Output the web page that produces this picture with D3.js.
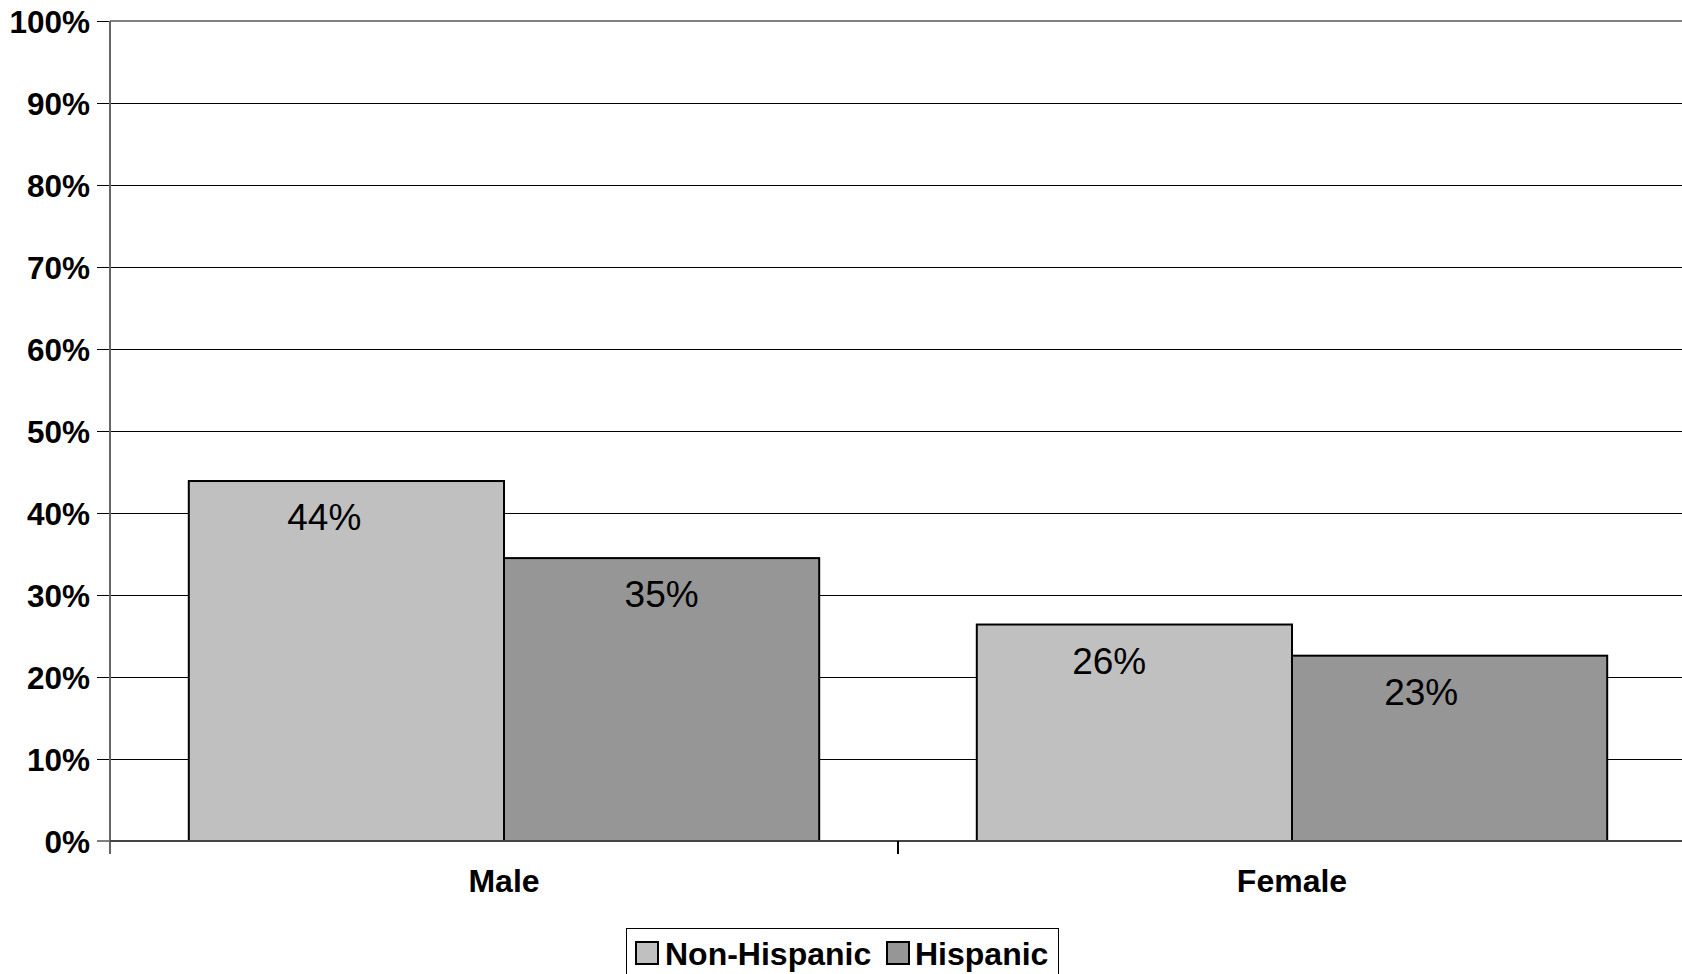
<!DOCTYPE html>
<html>
<head>
<meta charset="utf-8">
<script src="https://cdn.jsdelivr.net/npm/d3@7/dist/d3.min.js"></script>
<style>
  html, body { margin: 0; padding: 0; background: #fff; }
  svg { display: block; }
</style>
</head>
<body>
<svg id="chart" width="1682" height="974"></svg>
<script>
// ---- data ----
const categories = ["Male", "Female"];
const seriesNames = ["Non-Hispanic", "Hispanic"];
const nonHispanic = [0.439, 0.264];
const hispanic = [0.345, 0.226];
const labels = [["44%", "26%"], ["35%", "23%"]];
const yTicks = [0, 0.1, 0.2, 0.3, 0.4, 0.5, 0.6, 0.7, 0.8, 0.9, 1.0];

(function () {
const colors = ["#c0c0c0", "#969696"];
// label horizontal anchor within the bar (fraction of bar width), per series/category
const labelAnchor = [[0.43, 0.42], [0.5, 0.41]];

const mLeft = 110, mRight = 1682, scaleRight = 1686, mTop = 21, mBottom = 841;

const svg = d3.select("#chart");

const y = d3.scaleLinear().domain([0, 1]).range([mBottom, mTop]);
const x0 = d3.scaleBand().domain(categories).range([mLeft, scaleRight]).padding(0);
const bw = x0.bandwidth();
const barW = bw / 2.5;
const x1 = d3.scaleBand().domain(seriesNames)
  .range([(bw - 2 * barW) / 2, (bw + 2 * barW) / 2]).padding(0);

// gridlines (with tick extension)
svg.append("g").selectAll("line").data(yTicks.filter(d => d > 0)).join("line")
  .attr("x1", mLeft - 13).attr("x2", mRight)
  .attr("y1", d => y(d)).attr("y2", d => y(d))
  .attr("stroke", "#000").attr("stroke-width", 1)
  .attr("shape-rendering", "crispEdges");

// top border
svg.append("line").attr("x1", mLeft).attr("x2", mRight)
  .attr("y1", y(1)).attr("y2", y(1))
  .attr("stroke", "#808080").attr("stroke-width", 2);

// y tick at zero
svg.append("line").attr("x1", mLeft - 13).attr("x2", mLeft)
  .attr("y1", y(0)).attr("y2", y(0)).attr("stroke", "#000").attr("stroke-width", 1);

// y axis labels
const yAxis = d3.axisLeft(y).tickValues(yTicks).tickSize(0).tickPadding(20)
  .tickFormat(d3.format(".0%"));
const gy = svg.append("g").attr("transform", `translate(${mLeft},0)`).call(yAxis);
gy.select(".domain").remove();
gy.selectAll("text")
  .attr("font-family", "Liberation Sans, Arial, sans-serif")
  .attr("font-weight", "bold").attr("font-size", 31.5).attr("fill", "#000")
  .attr("dy", "0.35em");

// bars
const series = [nonHispanic, hispanic];
series.forEach((vals, si) => {
  const g = svg.append("g");
  g.selectAll("rect").data(vals).join("rect")
    .attr("x", (d, i) => x0(categories[i]) + x1(seriesNames[si]))
    .attr("y", d => y(d))
    .attr("width", x1.bandwidth())
    .attr("height", d => y(0) - y(d))
    .attr("fill", colors[si])
    .attr("stroke", "#000").attr("stroke-width", 2);
  g.selectAll("text").data(vals).join("text")
    .attr("x", (d, i) => x0(categories[i]) + x1(seriesNames[si]) + x1.bandwidth() * labelAnchor[si][i])
    .attr("y", d => y(d) + 49)
    .attr("text-anchor", "middle")
    .attr("font-family", "Liberation Sans, Arial, sans-serif")
    .attr("font-size", 37).attr("fill", "#000")
    .text((d, i) => labels[si][i]);
});

// axes lines
svg.append("line").attr("x1", mLeft).attr("x2", mLeft)
  .attr("y1", mTop).attr("y2", mBottom + 13)
  .attr("stroke", "#666").attr("stroke-width", 2);
svg.append("line").attr("x1", mLeft).attr("x2", mRight)
  .attr("y1", mBottom).attr("y2", mBottom)
  .attr("stroke", "#444").attr("stroke-width", 2);

// category ticks
svg.append("g").selectAll("line").data(categories.slice(1)).join("line")
  .attr("x1", d => x0(d)).attr("x2", d => x0(d))
  .attr("y1", mBottom).attr("y2", mBottom + 13)
  .attr("stroke", "#000").attr("stroke-width", 2);

// category labels
svg.append("g").selectAll("text").data(categories).join("text")
  .attr("x", d => x0(d) + bw / 2)
  .attr("y", mBottom + 51)
  .attr("text-anchor", "middle")
  .attr("font-family", "Liberation Sans, Arial, sans-serif")
  .attr("font-weight", "bold").attr("font-size", 32).attr("fill", "#000")
  .text(d => d);

// legend
const lg = svg.append("g");
lg.append("rect").attr("x", 626.5).attr("y", 928.5).attr("width", 432).attr("height", 46)
  .attr("fill", "#fff").attr("stroke", "#000").attr("stroke-width", 1);
const legendItems = [
  { name: seriesNames[0], color: colors[0], sx: 636, tx: 665 },
  { name: seriesNames[1], color: colors[1], sx: 887, tx: 915 }
];
legendItems.forEach(it => {
  lg.append("rect").attr("x", it.sx).attr("y", 942).attr("width", 22).attr("height", 22)
    .attr("fill", it.color).attr("stroke", "#000").attr("stroke-width", 2);
  lg.append("text").attr("x", it.tx).attr("y", 965)
    .attr("font-family", "Liberation Sans, Arial, sans-serif")
    .attr("font-weight", "bold").attr("font-size", 32).attr("fill", "#000")
    .text(it.name);
});
})();
</script>
</body>
</html>
